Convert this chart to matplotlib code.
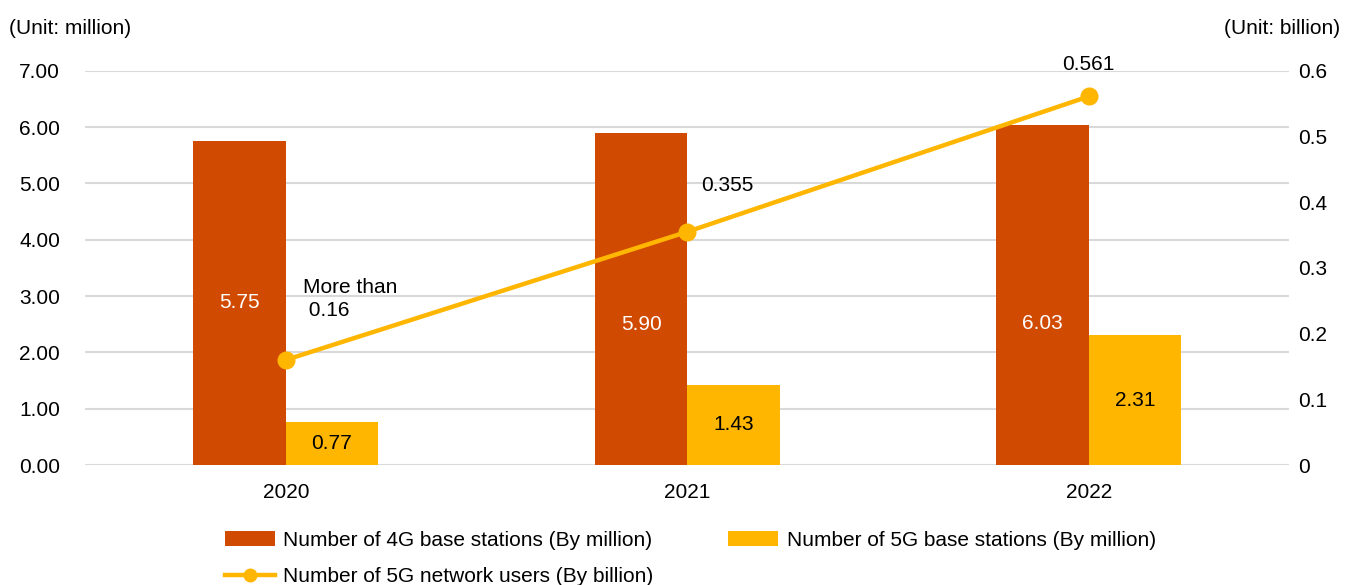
import matplotlib
matplotlib.use("Agg")
import matplotlib.pyplot as plt
import numpy as np

plt.rcParams['font.family'] = ['Liberation Sans', 'DejaVu Sans']

years = ["2020", "2021", "2022"]
bs_4g = [5.75, 5.90, 6.03]
bs_5g = [0.77, 1.43, 2.31]
users_5g = [0.16, 0.355, 0.561]
users_labels = ["More than\n 0.16", "0.355", "0.561"]
left_ticks = [0, 1, 2, 3, 4, 5, 6, 7]
right_ticks = [0, 0.1, 0.2, 0.3, 0.4, 0.5, 0.6]
right_ticklabels = ["0", "0.1", "0.2", "0.3", "0.4", "0.5", "0.6"]

# where the 4G value labels sit inside their bars (left-axis units)
label_y_4g = [2.88, 2.49, 2.52]

c4g = "#D04A02"
c5g = "#FFB600"
fs = 15

fig = plt.figure(figsize=(13.46, 5.85), dpi=100)
ax = fig.add_axes([0.0632, 0.205, 0.8948, 0.674])
x = np.arange(len(years))
w = 0.23

b1 = ax.bar(x - w / 2, bs_4g, w, color=c4g, zorder=2,
            label="Number of 4G base stations (By million)")
b2 = ax.bar(x + w / 2, bs_5g, w, color=c5g, zorder=2,
            label="Number of 5G base stations (By million)")

for xi, v, ly in zip(x, bs_4g, label_y_4g):
    ax.text(xi - w / 2, ly, f"{v:.2f}", ha='center', va='center', color='white', fontsize=fs, zorder=3)
for xi, v in zip(x, bs_5g):
    ax.text(xi + w / 2, v / 2, f"{v:.2f}", ha='center', va='center', color='black', fontsize=fs, zorder=3)

ax.set_xlim(-0.5, 2.5)
ax.set_ylim(0, 7)
ax.set_yticks(left_ticks)
ax.set_yticklabels([f"{t:.2f}" for t in left_ticks])
ax.set_xticks(x)
ax.set_xticklabels(years)
ax.grid(axis='y', color='#d9d9d9', linewidth=1.5, zorder=0)
ax.set_axisbelow(True)
for s in ax.spines.values():
    s.set_visible(False)
ax.tick_params(axis='y', length=0, pad=18, labelsize=fs)
ax.tick_params(axis='x', length=0, pad=13, labelsize=fs)

ax2 = ax.twinx()
ln, = ax2.plot(x, users_5g, color=c5g, linewidth=3.2, marker='o', markersize=12, zorder=4,
               label="Number of 5G network users (By billion)")
ax2.set_ylim(0, 0.6)
ax2.set_yticks(right_ticks)
ax2.set_yticklabels(right_ticklabels)
for s in ax2.spines.values():
    s.set_visible(False)
ax2.tick_params(axis='y', length=0, pad=6, labelsize=fs)

ax2.text(0.042, 0.253, users_labels[0], ha='left', va='center', fontsize=fs, linespacing=1.3)
ax2.text(1.10, 0.426, users_labels[1], ha='center', va='center', fontsize=fs)
ax2.text(2.0, 0.609, users_labels[2], ha='center', va='center', fontsize=fs, clip_on=False)

fig.text(0.007, 0.952, "(Unit: million)", ha='left', va='center', fontsize=fs)
fig.text(0.996, 0.952, "(Unit: billion)", ha='right', va='center', fontsize=fs)

fig.legend([b1, ln, b2], [b1.get_label(), ln.get_label(), b2.get_label()],
           ncol=2, loc='upper left', bbox_to_anchor=(0.167, 0.093), frameon=False,
           fontsize=fs, handlelength=2.4, handletextpad=0.4, columnspacing=3.6,
           labelspacing=0.85, borderaxespad=0, borderpad=0, markerscale=0.75)

fig.savefig("out.png", dpi=100)
